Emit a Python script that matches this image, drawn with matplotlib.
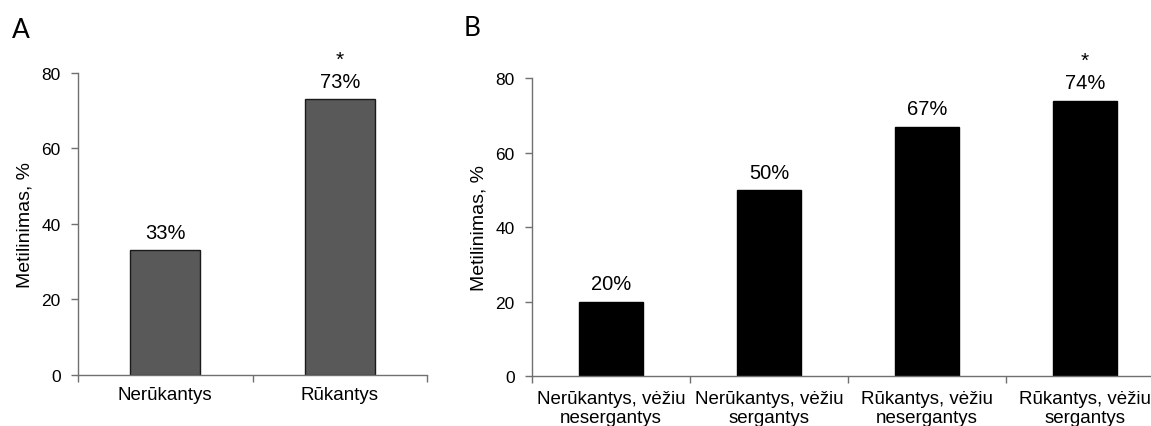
import matplotlib.pyplot as plt

plt.rcParams['font.family'] = ['Liberation Sans', 'DejaVu Sans']

# Panel A: smoking status
groups_a = ["Nerūkantys", "Rūkantys"]
values_a = [33, 73]
stars_a = ["", "*"]

# Panel B: smoking and cancer status
groups_b = ["Nerūkantys, vėžiu\nnesergantys", "Nerūkantys, vėžiu\nsergantys",
            "Rūkantys, vėžiu\nnesergantys", "Rūkantys, vėžiu\nsergantys"]
values_b = [20, 50, 67, 74]
stars_b = ["", "", "", "*"]

yticks = [0, 20, 40, 60, 80]
spine_color = "#707070"

fig = plt.figure(figsize=(11.51, 4.27), dpi=100)
ax_a = fig.add_axes([0.0678, 0.1194, 0.3032, 0.7082])
ax_b = fig.add_axes([0.4622, 0.1171, 0.5491, 0.6969])


def draw_panel(ax, groups, values, stars, color, edge, xpad):
    n = len(groups)
    xs = list(range(n))
    ax.bar(xs, values, width=0.4, color=color, edgecolor=edge, linewidth=1.0, zorder=2)
    ax.set_xlim(-0.5, n - 0.5)
    ax.set_ylim(0, 80)
    ax.set_yticks(yticks)
    ax.tick_params(axis='y', labelsize=12.5, length=5, width=1, color=spine_color, pad=7.5)
    # category labels centred, tick marks at the category boundaries
    ax.set_xticks(xs)
    ax.set_xticklabels(groups, fontsize=13.5, linespacing=1.2)
    ax.tick_params(axis='x', which='major', length=0, pad=xpad)
    ax.set_xticks([i - 0.5 for i in range(n + 1)], minor=True)
    ax.tick_params(axis='x', which='minor', length=5, width=1, color=spine_color)
    for side in ("top", "right"):
        ax.spines[side].set_visible(False)
    for side in ("left", "bottom"):
        ax.spines[side].set_color(spine_color)
        ax.spines[side].set_linewidth(1)
    ax.set_ylabel("Metilinimas, %", fontsize=14, labelpad=6)
    for x, v, s in zip(xs, values, stars):
        ax.annotate(f"{v}%", (x, v), xytext=(0, 6), textcoords="offset points",
                    ha="center", va="bottom", fontsize=14.5, annotation_clip=False)
        if s:
            ax.annotate(s, (x, v), xytext=(0, 22), textcoords="offset points",
                        ha="center", va="bottom", fontsize=15, annotation_clip=False)


draw_panel(ax_a, groups_a, values_a, stars_a, "#595959", "#1a1a1a", 8)
draw_panel(ax_b, groups_b, values_b, stars_b, "#000000", "#000000", 10)

fig.text(12 / 1151, 1 - 30 / 427, "A", fontsize=19, family=["Lato", "DejaVu Sans"], va="center")
fig.text(464 / 1151, 1 - 29 / 427, "B", fontsize=19, family=["Lato", "DejaVu Sans"], va="center")

fig.savefig("out.png", dpi=100)
